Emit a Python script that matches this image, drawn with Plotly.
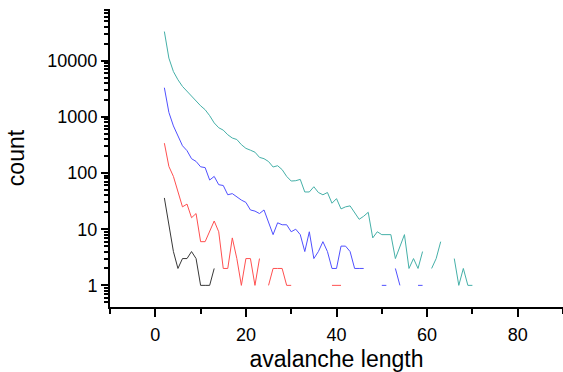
import plotly.graph_objects as go

# avalanche length (x) for each series; None = zero count (gap on log axis)
x_black = list(range(2, 14))
y_black = [36, 12, 4, 2, 3, 3, 4, 3, 1, 1, 1, 2]

x_red = list(range(2, 42))
y_red = [340, 131, 87, 47, 25, 28, 16, 19, 6, 6, 9, 14, 9, 2, 2, 7, 3, 1, 3, 3,
         1, 3, None, 1, 2, 2, 2, 1, 1, None, None, None, None, None, None, None,
         None, 1, 1, 1]

x_blue = list(range(2, 60))
y_blue = [3300, 1200, 690, 450, 306, 250, 180, 161, 129, 125, 75, 87, 62, 60, 41,
          43, 37, 33, 30, 22, 21, 19, 22, 13, 8, 13, 12, 12, 9, 10, 8, 4, 9, 3,
          4, 6, 4, 2, 2, 5, 5, 4, 2, 2, 2, None, None, None, 1, 1, None, 2, 1,
          None, None, None, 1, 1]

x_teal = list(range(2, 71))
y_teal = [33000, 11100, 6400, 4570, 3480, 2830, 2300, 1930, 1575, 1340, 1050,
          780, 640, 580, 480, 420, 395, 320, 275, 255, 235, 190, 180, 160, 128,
          135, 115, 87, 72, 73, 77, 46, 46, 57, 45, 41, 45, 29, 35, 23, 25, 26,
          20, 15, 17, 20, 7, 9, 8, 8, 8, 3, 5, 8, 2, 3, 2, 4, None, 2, 3, 6,
          None, None, 3, 1, 2, 1, 1]

x_ticks = [0, 20, 40, 60, 80]
y_ticks = [1, 10, 100, 1000, 10000]
y_ticktext = ["1", "10", "100", "1000", "10000"]

series = [
    (x_black, y_black, "#383838"),
    (x_red, y_red, "#ff5050"),
    (x_blue, y_blue, "#5050ff"),
    (x_teal, y_teal, "#45b0a8"),
]

fig = go.Figure()
for xs, ys, col in series:
    fig.add_trace(go.Scatter(x=xs, y=ys, mode="lines", connectgaps=False,
                             line=dict(color=col, width=1), showlegend=False))

minor_y = [k * 10 ** d for d in range(-1, 5) for k in range(2, 10)]

font = "Liberation Sans, Arial, sans-serif"
fig.update_layout(
    width=563, height=372,
    margin=dict(l=110, r=0, t=9, b=65),
    plot_bgcolor="white", paper_bgcolor="white",
    font=dict(family=font, size=18, color="black"),
    xaxis=dict(
        range=[-10, 90], tickvals=x_ticks, showgrid=False, zeroline=False,
        showline=True, linecolor="black", linewidth=2,
        ticks="outside", ticklen=8, tickwidth=2, tickcolor="black",
        tickfont=dict(size=18), ticklabelstandoff=2,
        minor=dict(tickvals=[-10, 10, 30, 50, 70, 90], ticks="outside",
                   ticklen=5, tickwidth=2, tickcolor="black"),
        title=dict(text="avalanche length", font=dict(size=23), standoff=7),
    ),
    yaxis=dict(
        type="log", range=[-0.385, 4.92], tickvals=y_ticks, ticktext=y_ticktext,
        showgrid=False, zeroline=False,
        showline=True, linecolor="black", linewidth=2,
        ticks="outside", ticklen=7, tickwidth=2, tickcolor="black",
        tickfont=dict(size=18),
        minor=dict(tickvals=minor_y, ticks="outside", ticklen=4, tickwidth=1.5,
                   tickcolor="black"),
        title=dict(text="count", font=dict(size=23), standoff=16),
    ),
)

fig.write_html("out.html")
